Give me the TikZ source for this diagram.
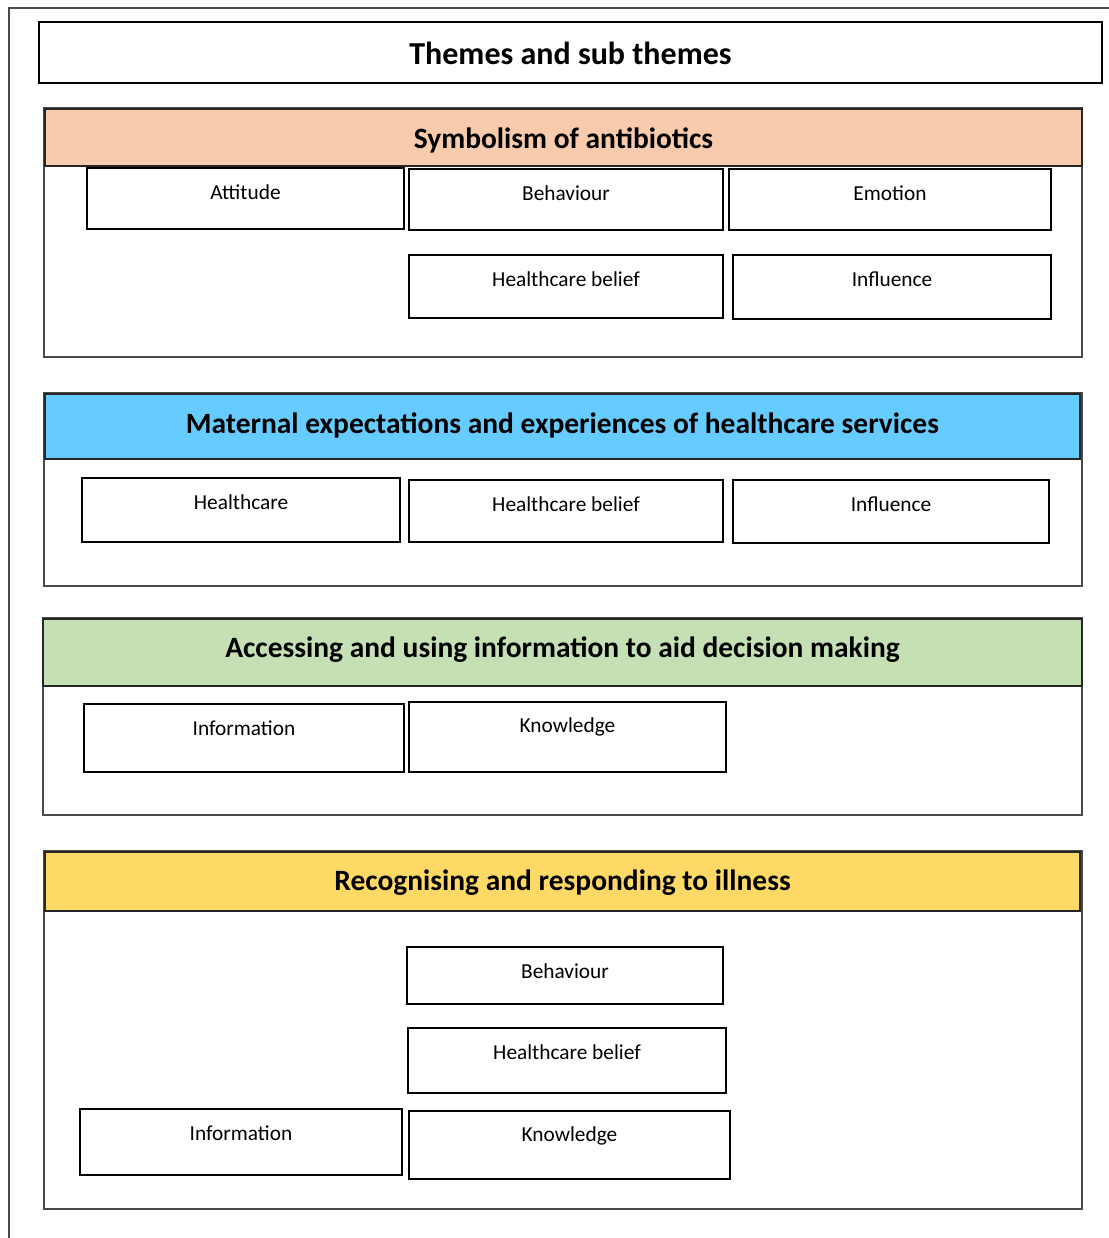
\documentclass[tikz,border=0pt]{standalone}
\usepackage{fontspec}
\setmainfont{Carlito}
\usetikzlibrary{fit}

\definecolor{peach}{HTML}{F8CBAD}
\definecolor{skyblue}{HTML}{66CCFF}
\definecolor{sage}{HTML}{C5E0B4}
\definecolor{gold}{HTML}{FFD966}
\definecolor{framegray}{HTML}{4A4A4A}

\tikzset{
  frameline/.style={draw=framegray, line width=1.6pt},
  titlebox/.style={draw=black, line width=0.9pt, inner sep=0pt,
    font=\fontsize{24}{29}\selectfont\bfseries},
  section/.style={draw=framegray, line width=1.5pt, inner sep=0pt},
  header/.style={draw=black!85, line width=1pt, inner sep=0pt,
    font=\fontsize{22.1}{27}\selectfont\bfseries},
  subbox/.style={draw=black, line width=0.85pt, inner sep=0pt},
  subtext/.style={font=\fontsize{16}{19}\selectfont, text=black}
}

% a sub-theme box; its caption sits 25 units under the top edge
\newcommand{\subtheme}[6]{%
  \node[subbox, fit={(#2,#3) (#4,#5)},
        label={[subtext, anchor=center, yshift=-18.75pt]north:#6}] (#1) {};}

\begin{document}
\begin{tikzpicture}[x=0.75pt, y=-0.75pt]
\useasboundingbox (0,0) rectangle (1109,1238);
\fill[white] (0,0) rectangle (1109,1238);

% outer frame (only its top and left edges fall inside the page)
\coordinate (frameBL) at (9,1238);
\coordinate (frameTL) at (9,8);
\coordinate (frameTR) at (1109,8);
\draw[frameline] (frameBL) -- (frameTL) -- (frameTR);

% main title
\node[titlebox, fit={(39,22) (1102,83)}] (title) {};
\node[titlebox, draw=none] at ([yshift=-0.75pt]title.center) {Themes and sub themes};

% ---- Symbolism of antibiotics
\node[section, fit={(44,108) (1082,357)}] (s1) {};
\node[header, fill=peach, fit={(45,109) (1082,166)}] (h1) {};
\node[header, draw=none] at ([yshift=-2pt]h1.center) {Symbolism of antibiotics};
\subtheme{s1att}{87}{168}{404}{229}{Attitude}
\subtheme{s1beh}{409}{169}{723}{230}{Behaviour}
\subtheme{s1emo}{729}{169}{1051}{230}{Emotion}
\subtheme{s1hcb}{409}{255}{723}{318}{Healthcare belief}
\subtheme{s1inf}{733}{255}{1051}{319}{Influence}

% ---- Maternal expectations
\node[section, fit={(44,393) (1082,586)}] (s2) {};
\node[header, fill=skyblue, fit={(45,394) (1080,459)}] (h2) {};
\node[header, draw=none] at ([yshift=0.75pt]h2.center) {Maternal expectations and experiences of healthcare services};
\subtheme{s2hc}{82}{478}{400}{542}{Healthcare}
\subtheme{s2hcb}{409}{480}{723}{542}{Healthcare belief}
\subtheme{s2inf}{733}{480}{1049}{543}{Influence}

% ---- Accessing information
\node[section, fit={(43,618) (1082,815)}] (s3) {};
\node[header, fill=sage, fit={(43,619) (1082,686)}] (h3) {};
\node[header, draw=none] at ([yshift=2pt]h3.center) {Accessing and using information to aid decision making};
\subtheme{s3inf}{84}{704}{404}{772}{Information}
\subtheme{s3kno}{409}{702}{726}{772}{Knowledge}

% ---- Recognising illness
\node[section, fit={(44,851) (1082,1209)}] (s4) {};
\node[header, fill=gold, fit={(45,852) (1080,911)}] (h4) {};
\node[header, draw=none] at ([yshift=-0.75pt]h4.center) {Recognising and responding to illness};
\subtheme{s4beh}{407}{947}{723}{1004}{Behaviour}
\subtheme{s4hcb}{408}{1028}{726}{1093}{Healthcare belief}
\subtheme{s4inf}{80}{1109}{402}{1175}{Information}
\subtheme{s4kno}{409}{1111}{730}{1179}{Knowledge}
\end{tikzpicture}
\end{document}
